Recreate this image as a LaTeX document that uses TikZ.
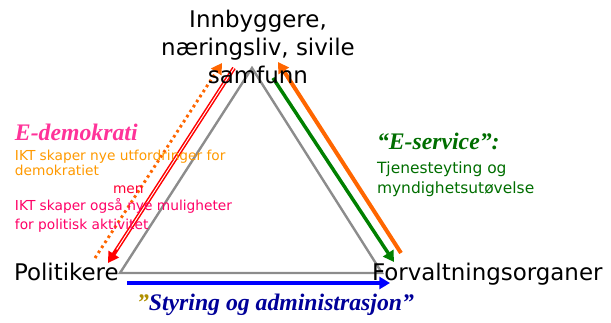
\documentclass[tikz,border=0pt]{standalone}
\usepackage{fontspec}
\setmainfont{Liberation Serif}
\newfontfamily\comic{DejaVu Sans}
\usetikzlibrary{arrows.meta}

\definecolor{edpink}{RGB}{255,51,153}
\definecolor{txtorange}{RGB}{255,153,0}
\definecolor{arrorange}{RGB}{255,102,0}
\definecolor{menred}{RGB}{255,0,51}
\definecolor{mulpink}{RGB}{255,0,102}
\definecolor{esgreen}{RGB}{0,110,0}
\definecolor{arrgreen}{RGB}{0,128,0}
\definecolor{styrblue}{RGB}{0,0,153}
\definecolor{quoteolive}{RGB}{176,144,0}

\begin{document}
\begin{tikzpicture}[x=0.75pt, y=-0.75pt,
    every node/.style={inner sep=0pt, outer sep=0pt},
    big/.style={font=\comic\fontsize{17.2}{21}\selectfont},
    head/.style={font=\bfseries\itshape\fontsize{17.8}{21}\selectfont},
    tip/.style={-{Triangle[length=8pt, width=9pt]}}]
  \useasboundingbox (0,0) rectangle (611,322);

  % triangle
  \coordinate (top) at (252,68);
  \coordinate (left) at (120,273);
  \coordinate (right) at (382,273);
  \draw[gray!90, line width=1.8pt, line join=miter] (top) -- (left) -- (right) -- cycle;

  % arrows
  \coordinate (od1) at (95,258);  \coordinate (od2) at (222,63);
  \coordinate (r1) at (234,68);   \coordinate (r2) at (108,263);
  \coordinate (g1) at (273,78);   \coordinate (g2) at (394,262);
  \coordinate (o1) at (401,253);  \coordinate (o2) at (278,62);
  \coordinate (b1) at (127,283);  \coordinate (b2) at (390,283);
  \draw[tip, arrorange, line width=2.2pt, dash pattern=on 2pt off 2.5pt] (od1) -- (od2);
  \draw[tip, red, line width=3pt] (r1) -- (r2);
  \draw[white, line width=0.7pt, shorten >=12pt] (r1) -- (r2);
  \draw[tip, arrgreen, line width=2.6pt] (g1) -- (g2);
  \draw[tip, arrorange, line width=3pt] (o1) -- (o2);
  \draw[tip, blue, line width=3pt] (b1) -- (b2);

  % labels (base = last line)
  \node[big, align=center, anchor=base] (innb) at (258,83)
    {Innbyggere,\\næringsliv, sivile\\samfunn};
  \node[big, anchor=base west] (pol) at (14,280) {Politikere};
  \node[big, anchor=base west] (forv) at (372,280) {Forvaltningsorganer};

  \node[head, edpink, anchor=base west] (edem) at (15,140) {E-demokrati};
  \node[txtorange, anchor=base west, align=left,
        font=\comic\fontsize{10.3}{11.25}\selectfont] (utf) at (15,175)
    {IKT skaper nye utfordringer for\\demokratiet};
  \node[menred, anchor=base west, font=\comic\fontsize{10.3}{12}\selectfont] (men) at (113,193) {men};
  \node[mulpink, anchor=base west, align=left,
        font=\comic\fontsize{10.3}{14.25}\selectfont] (mul) at (15,229)
    {IKT skaper også nye muligheter\\for politisk aktivitet};

  \node[head, esgreen, anchor=base west] (eserv) at (377,149) {“E-service”:};
  \node[esgreen, anchor=base west, align=left,
        font=\comic\fontsize{11.6}{15}\selectfont] (tjen) at (377,193)
    {Tjenesteyting og\\myndighetsutøvelse};

  \node[head, styrblue, anchor=base west] (styr) at (137,310)
    {\textcolor{quoteolive}{"}Styring og administrasjon”};
\end{tikzpicture}
\end{document}
